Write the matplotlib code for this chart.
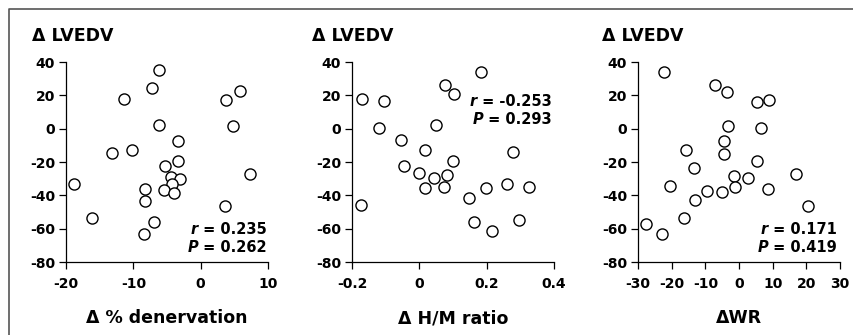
import matplotlib
matplotlib.use('Agg')
import matplotlib.pyplot as plt
from matplotlib.lines import Line2D

plt.rcParams['font.family'] = ['DejaVu Sans']
plt.rcParams['font.weight'] = 'bold'
plt.rcParams['axes.unicode_minus'] = False

# change in LVEDV (shared y label), against three predictors
lvedv_denerv = [35.4, 24.6, 17.7, 2.5, 17.5, 22.5, 1.5, -7.2, -14.4, -12.6, -19.4, -22.6, -28.8,
                -30.2, -33.4, -36.7, -38.3, -36.1, -43.1, -33.4, -27.4, -46.5, -53.5, -55.9, -63.4]
denerv = [-6.2, -7.2, -11.4, -6.2, 3.8, 5.8, 4.8, -3.3, -13.2, -10.2, -3.4, -5.3, -4.4,
          -3.1, -4.3, -5.4, -4.0, -8.2, -8.2, -18.8, 7.4, 3.6, -16.2, -7.0, -8.4]

lvedv_hm = [17.7, 16.9, 0.7, -7.0, -22.2, -45.9, -13.0, -26.8, -35.3, 2.0, -29.4, -35.1, -28.0,
            -19.4, 26.0, 20.9, 34.2, -41.3, -35.3, -56.1, -61.5, -33.1, -13.8, -54.5, -35.1]
hm_ratio = [-0.169, -0.104, -0.120, -0.054, -0.047, -0.174, 0.017, 0.000, 0.018, 0.050, 0.045, 0.073, 0.083,
            0.100, 0.075, 0.103, 0.184, 0.148, 0.197, 0.161, 0.215, 0.260, 0.279, 0.297, 0.327]

lvedv_wr = [34.0, 26.4, 22.0, 16.0, 17.2, 1.9, 0.3, -7.5, -14.9, -12.7, -23.3, -19.5, -34.1,
            -37.3, -37.7, -28.6, -35.2, -29.8, -36.4, -26.9, -46.6, -42.8, -53.8, -57.0, -63.3]
wr = [-22.3, -7.1, -3.5, 5.4, 8.9, -3.3, 6.5, -4.6, -4.6, -15.8, -13.4, 5.3, -20.5,
      -9.5, -5.0, -1.4, -1.2, 2.6, 8.7, 17.0, 20.5, -13.2, -16.4, -27.5, -22.8]

xlabels = ['\u0394 % denervation', '\u0394 H/M ratio', '\u0394WR']
xticks = [[-20, -10, 0, 10], [-0.2, 0, 0.2, 0.4], [-30, -20, -10, 0, 10, 20, 30]]
xticklabels = [['-20', '-10', '0', '10'], ['-0.2', '0', '0.2', '0.4'],
               ['-30', '-20', '-10', '0', '10', '20', '30']]
yticks = [-80, -60, -40, -20, 0, 20, 40]
r_vals = ['0.235', '-0.253', '0.171']
p_vals = ['0.262', '0.293', '0.419']

xs = [denerv, hm_ratio, wr]
ys = [lvedv_denerv, lvedv_hm, lvedv_wr]

W, H = 854, 335
fig = plt.figure(figsize=(W / 100, H / 100), dpi=100)

lefts = [66, 352, 638]
title_x = [32, 312, 602]
# where the r / P block sits (axes fraction): right edge, r line, P line
stat_pos = [(0.994, 0.16, 0.07), (0.989, 0.80, 0.715), (0.984, 0.16, 0.07)]

for i in range(3):
    ax = fig.add_axes([lefts[i] / W, 1 - 262 / H, 202 / W, 200 / H])
    ax.scatter(xs[i], ys[i], s=64, facecolor='white', edgecolor='black', linewidth=1.0,
               zorder=3, clip_on=False)
    ax.set_xlim(xticks[i][0], xticks[i][-1])
    ax.set_ylim(-80, 40)
    ax.set_xticks(xticks[i])
    ax.set_xticklabels(xticklabels[i])
    ax.set_yticks(yticks)
    ax.spines['top'].set_visible(False)
    ax.spines['right'].set_visible(False)
    for s in ['left', 'bottom']:
        ax.spines[s].set_linewidth(0.9)
    ax.tick_params(direction='out', length=5, width=0.9, labelsize=10)
    ax.tick_params(axis='y', pad=3)
    ax.tick_params(axis='x', pad=6)
    ax.set_xlabel(xlabels[i], fontsize=12.5, fontweight='bold', labelpad=13)

    fig.text(title_x[i] / W, 1 - 41.3 / H, '\u0394 LVEDV', fontsize=12.5, fontweight='bold',
             ha='left', va='baseline')

    rx, ry, py = stat_pos[i]
    rt = ax.text(rx, ry, ' = ' + r_vals[i], transform=ax.transAxes, ha='right', va='center',
                 fontsize=10.5, fontweight='bold')
    pt = ax.text(rx, py, ' = ' + p_vals[i], transform=ax.transAxes, ha='right', va='center',
                 fontsize=10.5, fontweight='bold')
    ax.annotate('r', xy=(0, 0.5), xycoords=rt, ha='right', va='center',
                fontsize=10.5, fontweight='bold', fontstyle='italic')
    ax.annotate('P', xy=(0, 0.5), xycoords=pt, ha='right', va='center',
                fontsize=10.5, fontweight='bold', fontstyle='italic')

# grey frame on the left and top edges
fig.add_artist(Line2D([9.5 / W, 9.5 / W, 1], [0, 1 - 8.5 / H, 1 - 8.5 / H],
                      color='#555555', linewidth=1.2))

plt.savefig('out.png', dpi=100)
